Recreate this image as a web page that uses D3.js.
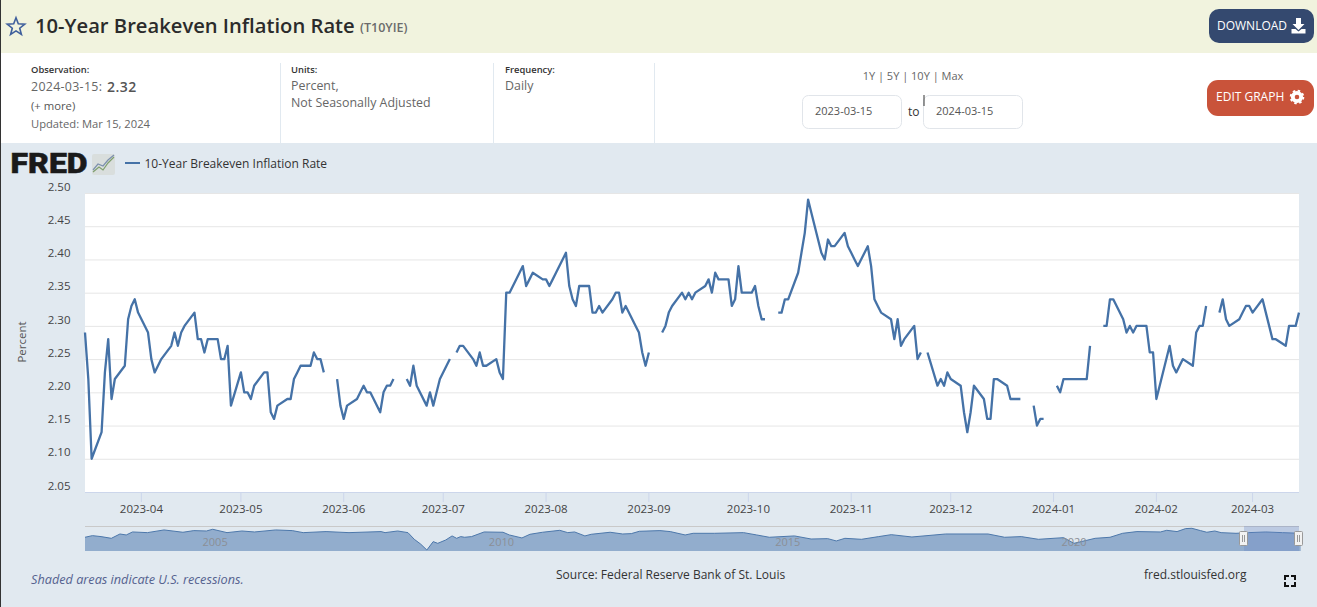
<!DOCTYPE html>
<html><head><meta charset="utf-8">
<script src="https://cdn.jsdelivr.net/npm/d3@7"></script>
<style>
html,body{margin:0;padding:0;background:#e1e9f0;overflow:hidden}
svg{display:block;font-family:"Open Sans",sans-serif}
</style></head><body>
<svg id="c" width="1317" height="607"></svg>
<script>
const seriesName = "10-Year Breakeven Inflation Rate";
// Weekday observations starting Wed 2023-03-15; null = market holiday
const values = [
 2.29,2.22,2.10,
 2.14,2.23,2.28,2.19,2.22,
 2.24,2.31,2.33,2.34,2.32,
 2.29,2.25,2.23,2.24,2.25,
 2.27,2.29,2.27,2.29,2.30,
 2.32,2.28,2.28,2.26,2.28,
 2.28,2.25,2.25,2.27,2.18,
 2.23,2.20,2.20,2.19,2.21,
 2.23,2.23,2.17,2.16,2.18,
 2.19,2.19,2.22,2.23,2.24,
 2.24,2.26,2.25,2.25,2.23,
 null,2.22,2.18,2.16,2.18,
 2.19,2.20,2.21,2.20,2.20,
 2.17,2.20,2.21,2.21,2.22,
 null,2.22,2.21,2.24,2.21,
 2.18,2.20,2.18,2.20,2.22,
 2.25,null,2.26,2.27,2.27,
 2.25,2.24,2.26,2.24,2.24,
 2.25,2.23,2.22,2.35,2.35,
 2.38,2.39,2.36,2.37,2.38,
 2.37,2.37,2.36,2.37,2.38,
 2.41,2.36,2.34,2.33,2.36,
 2.36,2.32,2.32,2.33,2.32,
 2.34,2.35,2.35,2.32,2.33,
 2.30,2.29,2.26,2.24,2.26,
 null,2.29,2.30,2.32,2.33,
 2.35,2.34,2.35,2.34,2.35,
 2.36,2.37,2.35,2.38,2.37,
 2.37,2.33,2.34,2.39,2.35,
 2.35,2.36,2.33,2.31,2.31,
 null,2.32,2.32,2.34,2.34,
 2.38,2.41,2.44,2.49,2.47,
 2.41,2.40,2.43,2.42,2.42,
 2.44,2.42,2.41,2.40,2.39,
 2.42,2.39,2.34,2.33,2.32,
 2.31,2.28,2.31,2.27,2.28,
 2.30,2.25,2.26,null,2.26,
 2.21,2.22,2.21,2.23,2.22,
 2.21,2.17,2.14,2.17,2.21,
 2.19,2.16,2.16,2.22,2.22,
 2.21,2.19,2.19,2.19,2.19,
 null,2.18,2.15,2.16,2.16,
 null,2.21,2.20,2.22,2.22,
 2.22,2.22,2.22,2.22,2.27,
 null,2.30,2.30,2.34,2.34,
 2.31,2.29,2.30,2.29,2.30,
 2.30,2.26,2.26,2.19,2.21,
 2.27,2.24,2.23,2.24,2.25,
 2.24,2.29,2.30,2.30,2.33,
 null,2.32,2.34,2.31,2.30,
 2.31,2.32,2.33,2.33,2.32,
 2.34,2.32,2.30,2.28,2.28,
 2.27,2.30,2.30,2.30,2.32
];
const yTicks = [2.05,2.10,2.15,2.20,2.25,2.30,2.35,2.40,2.45,2.50];
const monthTicks = ["2023-04","2023-05","2023-06","2023-07","2023-08","2023-09","2023-10","2023-11","2023-12","2024-01","2024-02","2024-03"];
const navYears = [2003.00,2003.13,2003.28,2003.46,2003.61,2003.72,2003.83,2004.09,2004.38,2004.71,2004.90,2005.12,2005.23,2005.48,2005.74,2005.96,2006.33,2006.62,2006.81,2007.21,2007.61,2008.17,2008.24,2008.46,2008.64,2008.75,2008.86,2008.97,2009.08,2009.16,2009.30,2009.41,2009.49,2009.56,2009.63,2009.75,2009.97,2010.30,2010.41,2010.63,2010.77,2010.99,2011.29,2011.43,2011.55,2011.73,2011.84,2012.17,2012.39,2012.54,2012.68,2013.04,2013.22,2013.48,2013.62,2013.99,2014.50,2014.73,2014.95,2015.39,2015.68,2015.97,2016.12,2016.27,2016.56,2016.86,2017.08,2017.44,2018.03,2018.77,2019.06,2019.35,2019.65,2020.09,2020.27,2020.64,2020.90,2021.12,2021.37,2021.78,2021.89,2022.07,2022.22,2022.33,2022.48,2022.59,2022.73,2022.84,2023.10,2023.32,2023.62,2023.91,2024.23];
const navValues = [1.74,1.96,1.83,1.60,2.18,2.05,2.45,2.36,2.72,2.41,2.63,2.58,2.81,2.36,2.58,2.45,2.72,2.63,2.36,2.50,2.36,2.50,2.36,2.58,2.36,1.47,0.84,0.04,1.16,0.93,1.38,1.92,1.60,1.83,1.74,1.83,2.45,2.41,2.05,1.65,2.14,2.41,2.67,2.36,2.45,1.92,2.14,2.41,2.18,2.23,2.54,2.63,2.50,2.05,2.27,2.27,2.36,2.05,1.74,1.92,1.51,1.56,1.25,1.60,1.47,1.83,2.09,1.78,2.18,2.18,1.74,1.83,1.47,1.69,0.93,1.60,1.74,2.27,2.50,2.45,2.67,2.50,2.90,2.94,2.63,2.41,2.58,2.36,2.27,2.36,2.45,2.36,2.27];
const navLabels = [2005,2010,2015,2020];

const svg = d3.select("#c");
const T = (x,y,s,o={})=>svg.append("text").attr("x",x).attr("y",y).text(s)
  .attr("font-size",o.size||12).attr("fill",o.fill||"#555")
  .attr("font-weight",o.weight||400).attr("font-style",o.style||"normal")
  .attr("text-anchor",o.anchor||"start").attr("dominant-baseline","middle")
  .attr("font-family",o.family||null).attr("letter-spacing",o.ls||null);
const R = (x,y,w,h,f,o={})=>svg.append("rect").attr("x",x).attr("y",y).attr("width",w).attr("height",h).attr("fill",f)
  .attr("rx",o.r||0).attr("stroke",o.stroke||"none");

// page bands
R(0,0,1317,53,"#f1f3de");
R(0,53,1317,90,"#ffffff");
R(0,143,1317,464,"#e1e9f0");
R(0,0,1,607,"#333333");

// header
svg.append("path").attr("transform","translate(16,27)")
 .attr("d",d3.range(10).map(i=>{const r=i%2?3.9:9.2,a=-Math.PI/2+i*Math.PI/5;return (i?"L":"M")+(r*Math.cos(a)).toFixed(2)+","+(r*Math.sin(a)).toFixed(2)}).join("")+"Z")
 .attr("fill","none").attr("stroke","#3f5f9c").attr("stroke-width",1.6);
T(35,27.5,seriesName,{size:20.2,weight:600,fill:"#2b2b2b"});
T(360,29,"(T10YIE)",{size:12.5,weight:600,fill:"#6b6b6b"});

R(1209,9,105,34,"#34496f",{r:10});
T(1217,26.5,"DOWNLOAD",{size:12,fill:"#fff"});
svg.append("path").attr("d","M1296,18h5v6h3.5l-6,6-6,-6h3.5zM1291.500,29h4l3,2.500 3,-2.500h4v4.500h-14z").attr("fill","#fff");
R(1207,80,107,36,"#c9533a",{r:11});
T(1216,98,"EDIT GRAPH",{size:12,fill:"#fff"});
svg.append("circle").attr("cx",1297).attr("cy",97).attr("r",4.2).attr("fill","none").attr("stroke","#fff").attr("stroke-width",3.8);
svg.append("circle").attr("cx",1297).attr("cy",97).attr("r",6.400).attr("fill","none").attr("stroke","#fff").attr("stroke-width",1.8).attr("stroke-dasharray","2.500 2.520");

// info block
[280.5,493.5,654.5].forEach(x=>svg.append("line").attr("x1",x).attr("x2",x).attr("y1",63).attr("y2",143).attr("stroke","#e1e9f0"));
T(31,70,"Observation:",{size:9.4,weight:600,fill:"#333"});
T(31,88,"2024-03-15:",{size:12.4,fill:"#666",ls:.3});
T(107,88,"2.32",{size:14,weight:600,fill:"#555",ls:.5});
T(31,107,"(+ more)",{size:11.3,fill:"#555"});
T(31,125,"Updated: Mar 15, 2024",{size:11.2,fill:"#666"});
T(291,70,"Units:",{size:9.4,weight:600,fill:"#333"});
T(291,87,"Percent,",{size:12.4,fill:"#666"});
T(291,104,"Not Seasonally Adjusted",{size:12.4,fill:"#666"});
T(505,70,"Frequency:",{size:9.4,weight:600,fill:"#333"});
T(505,87,"Daily",{size:12.4,fill:"#666"});
T(913,77,"1Y | 5Y | 10Y | Max",{size:11,anchor:"middle",fill:"#666"});
R(802.500,95.500,99,33,"#fff",{r:6,stroke:"#e1e5ea"});
R(923.500,95.500,99,33,"#fff",{r:6,stroke:"#e1e5ea"});
T(815,112,"2023-03-15",{size:11,fill:"#555"});
T(936,112,"2024-03-15",{size:11,fill:"#555"});
T(908,113,"to",{size:12,fill:"#333"});
svg.append("line").attr("x1",924).attr("x2",924).attr("y1",95).attr("y2",106).attr("stroke","#333");

// logo & legend
T(10.5,165.5,"FRED",{size:27,weight:900,fill:"#1a1a1a",family:"Roboto, sans-serif"})
  .attr("textLength",77).attr("lengthAdjust","spacingAndGlyphs").attr("stroke","#1a1a1a").attr("stroke-width",.5);
R(92,154,23,21,"#d9dedd",{r:2});
svg.append("path").attr("d","M93,172L99,167L103,170L108,163L114,157").attr("fill","none").attr("stroke","#7f9f6e").attr("stroke-width",1.2);
svg.append("path").attr("d","M93,170L98,164L103,166L108,160L114,155").attr("fill","none").attr("stroke","#7c90ad").attr("stroke-width",1.2);
svg.append("line").attr("x1",125).attr("x2",140).attr("y1",163).attr("y2",163).attr("stroke","#4572a7").attr("stroke-width",2);
T(144.5,165,seriesName,{size:12,fill:"#333"});

// main plot
const plotL=85,plotR=1299,plotT=193,plotB=492;
R(plotL,plotT,plotR-plotL,plotB-plotT,"#ffffff");
const startDate=new Date(Date.UTC(2023,2,15)), endDate=new Date(Date.UTC(2024,2,15));
const days=d3.utcDay.range(startDate,d3.utcDay.offset(endDate,1)).filter(d=>d.getUTCDay()%6!==0);
const x=d3.scaleUtc().domain([startDate,endDate]).range([plotL,plotR]);
const y=d3.scaleLinear().domain([2.05,2.50]).range([plotB,plotT]);
const parseMonth=d3.utcParse("%Y-%m");

const yAxis=svg.append("g").attr("transform",`translate(${plotL},0)`)
 .call(d3.axisLeft(y).tickValues(yTicks).tickFormat(d3.format(".2f")).tickSize(-(plotR-plotL)).tickPadding(14.5));
yAxis.select(".domain").remove();
yAxis.selectAll(".tick line").attr("stroke","#e6e6e6");
yAxis.selectAll(".tick text").attr("dy","-0.25em").attr("font-size",11.500).attr("fill","#444").attr("font-family","'Open Sans',sans-serif");

const xAxis=svg.append("g").attr("transform",`translate(-0.5,${plotB})`)
 .call(d3.axisBottom(x).tickValues(monthTicks.map(parseMonth)).tickFormat(d3.utcFormat("%Y-%m")).tickSize(10).tickPadding(2.5).tickSizeOuter(0));
xAxis.select(".domain").attr("stroke","#ccd6eb");
xAxis.selectAll(".tick line").attr("stroke","#ccd6eb").attr("y1",0);
xAxis.selectAll(".tick text").attr("font-size",11.500).attr("fill","#444").attr("font-family","'Open Sans',sans-serif");

svg.append("text").attr("transform","translate(23,342) rotate(-90)").attr("text-anchor","middle").attr("dominant-baseline","middle")
 .attr("font-size",11.500).attr("fill","#555").text("Percent");

const points=days.map((d,i)=>({d,v:values[i]}));
svg.append("path").datum(points)
 .attr("d",d3.line().defined(p=>p.v!=null).x(p=>x(p.d)).y(p=>y(p.v)))
 .attr("fill","none").attr("stroke","#4572a7").attr("stroke-width",2.3).attr("stroke-linejoin","round");

// navigator
const navX=d3.scaleLinear().domain([2003,2024.2]).range([plotL,plotR]);
const navY=d3.scaleLinear().domain([0.04,3.02]).range([550,527.7]);
const navBottom=551,navTop=526;
const navPts=navYears.map((t,i)=>({t,v:navValues[i]}));
svg.append("path").datum(navPts)
 .attr("d",d3.area().x(p=>navX(p.t)).y0(navBottom).y1(p=>navY(p.v)))
 .attr("fill","#92adcd");
svg.append("path").datum(navPts)
 .attr("d",d3.line().x(p=>navX(p.t)).y(p=>navY(p.v)))
 .attr("fill","none").attr("stroke","#4d78ab").attr("stroke-width",1);
svg.append("line").attr("x1",plotL).attr("x2",plotR).attr("y1",navTop+.5).attr("y2",navTop+.5).attr("stroke","#c9c9c9").attr("stroke-width",1);
navLabels.forEach(l=>T(navX(l)+3,543.500,l,{size:11,fill:"#8b8f96"}));
R(1244,navTop,55,navBottom-navTop,"rgba(102,133,194,0.3)");
[1244,1299].forEach(hx=>{
  R(hx-4.500,531.500,8,14,"#f2f2f2",{r:1,stroke:"#999"});
  svg.append("path").attr("d",`M${hx-1.500},535V542M${hx+.500},535V542`).attr("stroke","#999").attr("fill","none");
});

// footer
T(31,581,"Shaded areas indicate U.S. recessions.",{size:12.7,style:"italic",fill:"#55628f"});
T(556,576,"Source: Federal Reserve Bank of St. Louis",{size:12,fill:"#333"});
T(1144,576,"fred.stlouisfed.org",{size:12,fill:"#333"});
svg.append("path").attr("d","M1285,580v-4h4M1291,576h4v4M1295,582v4h-4M1289,586h-4v-4").attr("fill","none").attr("stroke","#111").attr("stroke-width",2);
</script>
</body></html>
